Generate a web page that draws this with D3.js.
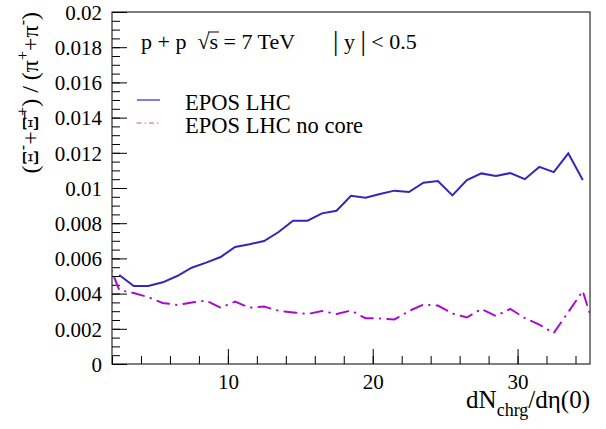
<!DOCTYPE html>
<meta charset="utf-8">
<style>
  body { margin: 0; background: #fff; }
  svg text { font-family: "Liberation Serif", "Times New Roman", "DejaVu Serif", serif !important; fill: #000; }
  .axis path { display: none; }
  .axis line { stroke: #000; stroke-width: 1px; }
</style>
<body>
<script src="https://d3js.org/d3.v7.min.js"></script>
<script>
  // dNch/deta bin centres
  var xBins = [1.5, 2.5, 3.5, 4.5, 5.5, 6.5, 7.5, 8.5, 9.5, 10.5, 11.5, 12.5, 13.5, 14.5, 15.5, 16.5, 17.5,
               18.5, 19.5, 20.5, 21.5, 22.5, 23.5, 24.5, 25.5, 26.5, 27.5, 28.5, 29.5, 30.5, 31.5,
               32.5, 33.5, 34.5, 35.5];

  // EPOS LHC (null = no point in that bin)
  var eposLhc = [null, 0.00506, 0.00443, 0.00443, 0.00464, 0.0050, 0.00547, 0.00576, 0.00608, 0.00665,
                 0.0068, 0.00699, 0.0075, 0.00814, 0.00814, 0.00856, 0.00871, 0.00956, 0.00945,
                 0.00966, 0.00985, 0.00977, 0.0103, 0.0104, 0.00958, 0.01045, 0.01083, 0.01068,
                 0.01085, 0.0105, 0.0112, 0.0109, 0.01197, 0.01045, null];

  // EPOS LHC no core
  var eposNoCore = [0.0063, 0.0042, 0.00403, 0.0038, 0.00347, 0.00335, 0.0035, 0.0036, 0.0032, 0.00354,
                    0.0032, 0.00326, 0.00303, 0.00293, 0.00284, 0.00301, 0.00284, 0.00304, 0.0026,
                    0.00259, 0.00253, 0.00301, 0.00338, 0.00332, 0.00287, 0.00264, 0.00313, 0.00273,
                    0.00313, 0.00261, 0.00224, 0.00176, 0.00295, 0.00415, 0.0015];

  var yTicks = [0, 0.002, 0.004, 0.006, 0.008, 0.01, 0.012, 0.014, 0.016, 0.018, 0.02];
  var yMinor = d3.range(0, 41).map(function(i) { return i * 0.0005; });
  var xTicks = [10, 20, 30];
  var xMinor = d3.range(2, 36, 2);

  var width = 606, height = 429;
  var padL = 112, padR = 590, padT = 12, padB = 364;
  var serif = "'Liberation Serif', 'Times New Roman', 'DejaVu Serif', serif";

  var svg = d3.select("body").append("svg")
      .attr("width", width)
      .attr("height", height)
      .attr("font-family", serif);

  var x = d3.scaleLinear().domain([2, 35]).range([padL, padR]);
  var y = d3.scaleLinear().domain([0, 0.02]).range([padB, padT]);

  svg.append("clipPath").attr("id", "frame")
    .append("rect")
      .attr("x", padL).attr("y", padT)
      .attr("width", padR - padL).attr("height", padB - padT);

  // minor ticks first
  svg.append("g").attr("class", "axis")
      .attr("transform", "translate(" + padL + ",0)")
      .call(d3.axisLeft(y).tickValues(yMinor).tickSize(-8).tickFormat(""));
  svg.append("g").attr("class", "axis")
      .attr("transform", "translate(0," + padB + ")")
      .call(d3.axisBottom(x).tickValues(xMinor).tickSize(-8).tickFormat(""));

  // major ticks with labels
  svg.append("g").attr("class", "axis")
      .attr("transform", "translate(" + padL + ",0)")
      .call(d3.axisLeft(y).tickValues(yTicks).tickSize(-15).tickPadding(10)
        .tickFormat(d3.format(".3~f")))
      .attr("font-family", serif)
      .selectAll("text")
        .style("font-size", "21px")
        .attr("dy", "0.35em");

  svg.append("g").attr("class", "axis")
      .attr("transform", "translate(0," + padB + ")")
      .call(d3.axisBottom(x).tickValues(xTicks).tickSize(-15).tickPadding(10))
      .attr("font-family", serif)
      .selectAll("text")
        .style("font-size", "21px");

  svg.append("rect")
      .attr("x", padL).attr("y", padT)
      .attr("width", padR - padL).attr("height", padB - padT)
      .attr("fill", "none")
      .attr("stroke", "#000")
      .attr("stroke-width", 1);

  var line = function(vals) {
    return d3.line()
      .defined(function(d, i) { return vals[i] != null; })
      .x(function(d) { return x(d); })
      .y(function(d, i) { return y(vals[i]); })(xBins);
  };

  var plot = svg.append("g").attr("clip-path", "url(#frame)");

  plot.append("path")
      .attr("d", line(eposNoCore))
      .attr("fill", "none")
      .attr("stroke", "#a80ccc")
      .attr("stroke-width", 2)
      .attr("stroke-linecap", "round")
      .attr("stroke-dasharray", "12 7 0.5 7");

  plot.append("path")
      .attr("d", line(eposLhc))
      .attr("fill", "none")
      .attr("stroke", "#3a22bb")
      .attr("stroke-width", 2);

  // header text
  var head = svg.append("text")
      .attr("x", 141).attr("y", 49)
      .style("font-size", "22px");
  head.append("tspan").text("p + p\u00a0\u00a0\u221a");
  head.append("tspan").text("s");
  head.append("tspan").text(" = 7 TeV");
  var yr = svg.append("text")
      .attr("x", 333).attr("y", 49)
      .style("font-size", "22px");
  yr.append("tspan").style("font-size", "27px").attr("dy", 1).text("|");
  yr.append("tspan").attr("dy", -1).text(" y ");
  yr.append("tspan").style("font-size", "27px").attr("dy", 1).text("|");
  yr.append("tspan").attr("dy", -1).text(" < 0.5");
  // bar over the s of sqrt(s)
  var hn = head.node();
  var sStart = hn.getStartPositionOfChar(8), sEnd = hn.getEndPositionOfChar(8);
  svg.append("line")
      .attr("x1", sStart.x - 1).attr("x2", sEnd.x + 1)
      .attr("y1", 32).attr("y2", 32)
      .attr("stroke", "#000").attr("stroke-width", 1);

  // legend
  var legend = [
    { name: "EPOS LHC", color: "#3a22bb", dash: null, width: 1.2 },
    { name: "EPOS LHC no core", color: "#cc44dd", dash: "4 4 0.5 4", width: 1.2 }
  ];
  legend.forEach(function(l, i) {
    var yy = 100 + i * 23;
    svg.append("line")
        .attr("x1", 137).attr("x2", 160)
        .attr("y1", yy).attr("y2", yy)
        .attr("stroke", l.color)
        .attr("stroke-width", l.width)
        .attr("stroke-linecap", l.dash ? "round" : "butt")
        .attr("stroke-dasharray", l.dash);
    svg.append("text")
        .attr("x", 185).attr("y", yy + 10)
        .style("font-size", "22.5px")
        .text(l.name);
  });

  // x-axis title
  var xt = svg.append("text")
      .attr("x", 590).attr("y", 408)
      .attr("text-anchor", "end")
      .style("font-size", "25px");
  xt.append("tspan").text("dN");
  xt.append("tspan").attr("dy", 8).style("font-size", "18px").text("chrg");
  xt.append("tspan").attr("dy", -8).text("/d\u03b7(0)");

  // y-axis title
  var yt = svg.append("text")
      .attr("transform", "translate(38,12) rotate(-90)")
      .attr("text-anchor", "end")
      .style("font-size", "24px");
  yt.append("tspan").text("(\u039e");
  yt.append("tspan").attr("dy", -10).style("font-size", "16px").text("-");
  yt.append("tspan").attr("dy", 10).text("+");
  yt.append("tspan").text("\u039e\u0304");
  yt.append("tspan").attr("dy", -10).style("font-size", "16px").text("+");
  yt.append("tspan").attr("dy", 10).text(") / (\u03c0");
  yt.append("tspan").attr("dy", -10).style("font-size", "16px").text("+");
  yt.append("tspan").attr("dy", 10).text("+\u03c0");
  yt.append("tspan").attr("dy", -10).style("font-size", "16px").text("-");
  yt.append("tspan").attr("dy", 10).text(")");
</script>
</body>
